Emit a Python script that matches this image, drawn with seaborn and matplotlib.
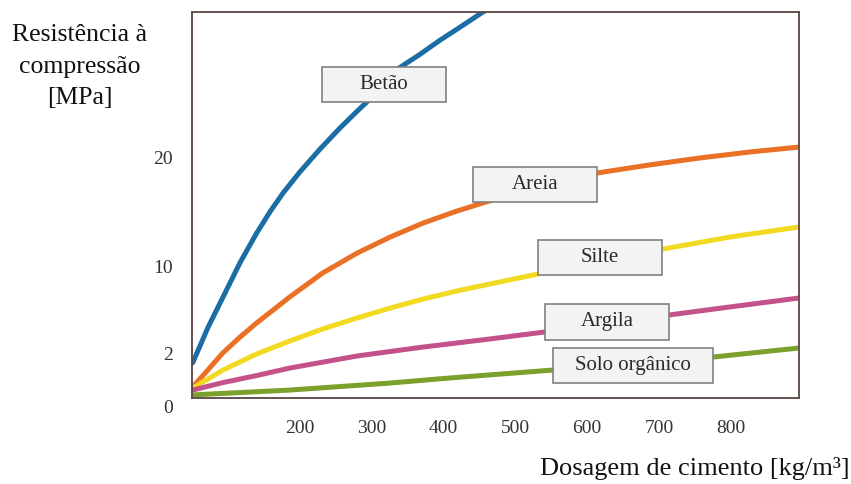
import numpy as np
import pandas as pd
import matplotlib
matplotlib.use("Agg")
import matplotlib.pyplot as plt
import matplotlib.transforms as mtransforms
from matplotlib.patches import Rectangle
import seaborn as sns

# Curves (x in kg/m3, y in MPa)
betao_x = [51, 72, 93, 117, 140, 159, 177, 200, 228, 256, 280, 312, 337, 367, 395, 423, 455, 493]
betao_y = [1.6, 4.4, 7.2, 10.4, 13.1, 15.1, 16.8, 18.7, 20.8, 22.75, 24.3, 26.3, 28.2,
           29.5, 30.8, 32.0, 33.4, 34.8]

areia_x = [51, 72, 93, 117, 140, 163, 186, 232, 280, 326, 372, 419, 455, 520, 614, 687, 757, 827, 895]
areia_y = [0.5, 1.27, 2.1, 3.56, 4.85, 6.04, 7.23, 9.44, 11.27, 12.74, 14.03, 15.13, 15.87,
           17.15, 18.62, 19.36, 20.0, 20.55, 21.0]

silte_x = [51, 72, 93, 140, 186, 232, 280, 326, 372, 419, 465, 532, 618, 706, 799, 895]
silte_y = [0.45, 0.86, 1.27, 2.0, 3.19, 4.3, 5.31, 6.22, 7.05, 7.79, 8.43, 9.35, 10.54, 11.64,
           12.74, 13.66]

argila_x = [51, 93, 140, 186, 280, 372, 465, 541, 632, 714, 799, 895]
argila_y = [0.36, 0.7, 1.02, 1.36, 1.91, 2.64, 3.38, 4.02, 4.85, 5.58, 6.32, 7.14]

organico_x = [51, 186, 326, 409, 552, 775, 895]
organico_y = [0.14, 0.36, 0.68, 0.91, 1.27, 1.86, 2.55]

solos = ["Betão", "Areia", "Silte", "Argila", "Solo orgânico"]
cores = ["#1b6ea5", "#ea7025", "#f2da22", "#c4528a", "#7ba12c"]

x_ticks = [200, 300, 400, 500, 600, 700, 800]
y_ticks = [0, 2, 10, 20]

series = [(betao_x, betao_y), (areia_x, areia_y), (silte_x, silte_y),
          (argila_x, argila_y), (organico_x, organico_y)]
df = pd.concat([pd.DataFrame({"dosagem": xs, "resistencia": ys, "solo": nome})
                for nome, (xs, ys) in zip(solos, series)], ignore_index=True)

# schematic y axis: bottom band (0-2) is stretched
y_knots = [0, 2, 20, 60]
p_knots = [0, 44, 240, 675.6]
def fwd(v):
    return np.interp(v, y_knots, p_knots)
def inv(p):
    return np.interp(p, p_knots, y_knots)

sns.set_style("white")
plt.rcParams["font.family"] = ["Liberation Serif", "DejaVu Serif"]

fig = plt.figure(figsize=(8.51, 4.84), dpi=100)
ax = fig.add_axes([0.2256, 0.1777, 0.7133, 0.7975])

sns.lineplot(data=df, x="dosagem", y="resistencia", hue="solo", hue_order=solos,
             palette=dict(zip(solos, cores)), sort=False, estimator=None,
             linewidth=3.6, legend=False, ax=ax)

ax.set_yscale("function", functions=(fwd, inv))
ax.set_xlim(50, 895)
ax.set_ylim(0, 33.4)
ax.set_xticks(x_ticks)
ax.set_yticks(y_ticks)
ax.set_xticklabels([str(t) for t in x_ticks])
ax.set_yticklabels([str(t) for t in y_ticks])
ax.tick_params(length=0, labelsize=14, labelcolor="#333333")
ax.tick_params(axis="x", pad=16)
ax.tick_params(axis="y", pad=14)
ax.set_xlabel("")
ax.set_ylabel("")
for s in ax.spines.values():
    s.set_visible(True)
    s.set_color("#5c4444")
    s.set_linewidth(1.3)

# push the "0" label a little below the axis, like the original
lab0 = ax.get_yticklabels()[0]
lab0.set_transform(lab0.get_transform() +
                   mtransforms.ScaledTranslation(0, -0.09, fig.dpi_scale_trans))

# label boxes (axes fractions)
caixas = [("Betão", 0.316, 0.813, 0.204),
          ("Areia", 0.565, 0.554, 0.204),
          ("Silte", 0.672, 0.365, 0.204),
          ("Argila", 0.684, 0.197, 0.204),
          ("Solo orgânico", 0.727, 0.085, 0.264)]
for nome, cx, cy, w in caixas:
    h = 0.091
    ax.add_patch(Rectangle((cx - w / 2, cy - h / 2), w, h, transform=ax.transAxes,
                           facecolor="#f3f3f3", edgecolor="#808080", linewidth=1.2,
                           zorder=5))
    ax.text(cx, cy, nome, transform=ax.transAxes, ha="center", va="center",
            fontsize=15, color="#2a2a2a", zorder=6)

fig.text(0.094, 0.862, "Resistência à\ncompressão\n[MPa]", ha="center", va="center",
         fontsize=18.5, linespacing=1.55, color="#111111")
fig.text(0.998, 0.019, "Dosagem de cimento [kg/m³]", ha="right", va="baseline",
         fontsize=19, color="#111111")

fig.savefig("out.png", dpi=100)
